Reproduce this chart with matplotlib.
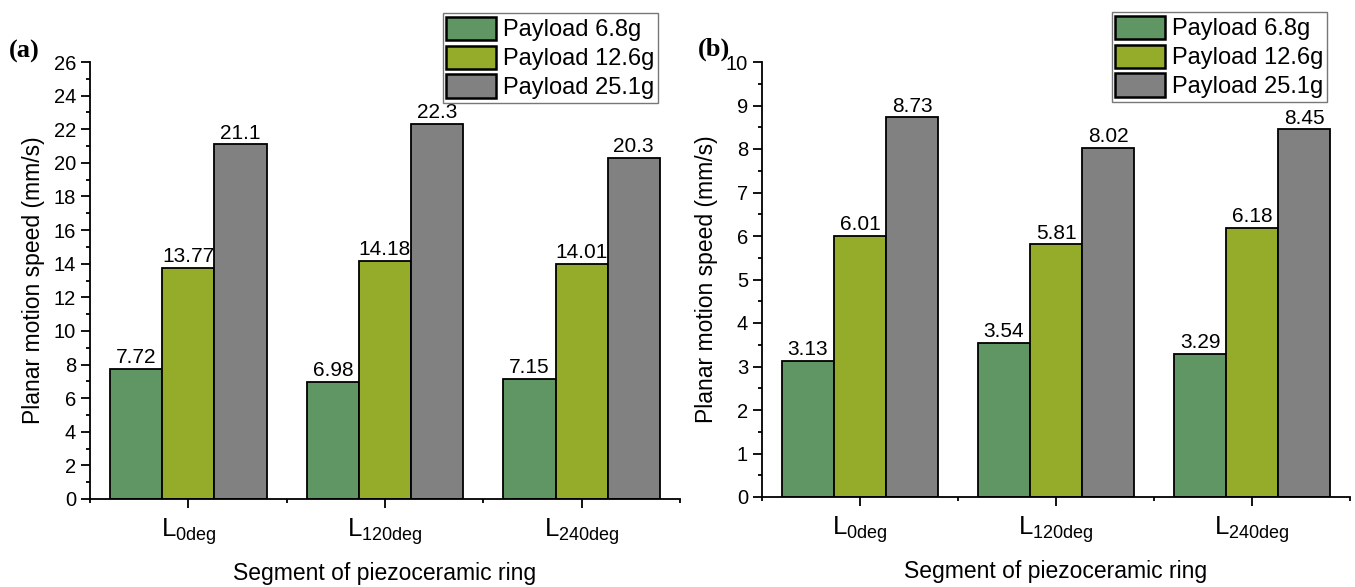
import matplotlib
matplotlib.use("Agg")
import matplotlib.pyplot as plt
import numpy as np
from matplotlib.ticker import MultipleLocator, FixedLocator

plt.rcParams['font.family'] = ['Liberation Sans', 'DejaVu Sans']
plt.rcParams['mathtext.fontset'] = 'custom'
plt.rcParams['mathtext.rm'] = 'Liberation Sans'
plt.rcParams['mathtext.it'] = 'Liberation Sans'

categories = [r'$\mathrm{L_{0deg}}$', r'$\mathrm{L_{120deg}}$', r'$\mathrm{L_{240deg}}$']
series_names = ['Payload 6.8g', 'Payload 12.6g', 'Payload 25.1g']
colors = ['#609664', '#95ab2a', '#818181']

a_p68 = [7.72, 6.98, 7.15]
a_p126 = [13.77, 14.18, 14.01]
a_p251 = [21.1, 22.3, 20.3]
a_labels = [['7.72', '6.98', '7.15'], ['13.77', '14.18', '14.01'], ['21.1', '22.3', '20.3']]

b_p68 = [3.13, 3.54, 3.29]
b_p126 = [6.01, 5.81, 6.18]
b_p251 = [8.73, 8.02, 8.45]
b_labels = [['3.13', '3.54', '3.29'], ['6.01', '5.81', '6.18'], ['8.73', '8.02', '8.45']]

W, H = 1355, 587
fig = plt.figure(figsize=(W / 100, H / 100), dpi=100)

def px_axes(x0, x1, ytop, ybot):
    return fig.add_axes([x0 / W, 1 - ybot / H, (x1 - x0) / W, (ybot - ytop) / H])

ax1 = px_axes(90, 680, 62, 499)
ax2 = px_axes(762, 1350, 62, 497)

bw = 0.265

def draw(ax, data, labels, ymax, major, minor, legend_anchor):
    x = np.arange(len(categories))
    handles = []
    for i, (vals, col, name) in enumerate(zip(data, colors, series_names)):
        bars = ax.bar(x + (i - 1) * bw, vals, width=bw, color=col, edgecolor='black',
                      linewidth=1.3, label=name, zorder=2)
        handles.append(bars)
        for xi, v, t in zip(x + (i - 1) * bw, vals, labels[i]):
            ax.text(xi, v + ymax * 0.004, t, ha='center', va='bottom', fontsize=15)
    ax.set_xlim(-0.5, 2.5)
    ax.set_ylim(0, ymax)
    ax.set_xticks(x)
    ax.set_xticklabels(categories)
    ax.xaxis.set_minor_locator(FixedLocator([-0.5, 0.5, 1.5, 2.5]))
    ax.yaxis.set_major_locator(MultipleLocator(major))
    ax.yaxis.set_minor_locator(MultipleLocator(minor))
    for s in ['top', 'right']:
        ax.spines[s].set_visible(False)
    for s in ['left', 'bottom']:
        ax.spines[s].set_linewidth(1.3)
    ax.tick_params(axis='both', which='major', direction='out', length=6.5, width=1.3, labelsize=14.5, pad=3.5)
    ax.tick_params(axis='both', which='minor', direction='out', length=3, width=1.3)
    ax.tick_params(axis='x', which='major', labelsize=18.5, pad=6)
    ax.set_xlabel('Segment of piezoceramic ring', fontsize=16.5, labelpad=11)
    ax.set_ylabel('Planar motion speed (mm/s)', fontsize=16.5, labelpad=6)
    leg = fig.legend(handles=handles, loc='upper right',
                     bbox_to_anchor=(legend_anchor[0] / W, 1 - legend_anchor[1] / H),
                     fontsize=17, frameon=True, fancybox=False, edgecolor='#555555',
                     handlelength=2.1, handleheight=1.15, labelspacing=0.18,
                     borderpad=0.15, handletextpad=0.3, borderaxespad=0)
    leg.get_frame().set_linewidth(1.0)
    for p in leg.get_patches():
        p.set_linewidth(1.8)

draw(ax1, [a_p68, a_p126, a_p251], a_labels, 26, 2, 1, (658, 13))
draw(ax2, [b_p68, b_p126, b_p251], b_labels, 10, 1, 0.5, (1327, 12))

fig.text(9 / W, 1 - 51 / H, '(a)', fontsize=19, fontweight='bold',
         family='Liberation Serif', ha='left', va='center')
fig.text(698 / W, 1 - 49 / H, '(b)', fontsize=19, fontweight='bold',
         family='Liberation Serif', ha='left', va='center')

fig.savefig('out.png', dpi=100)
